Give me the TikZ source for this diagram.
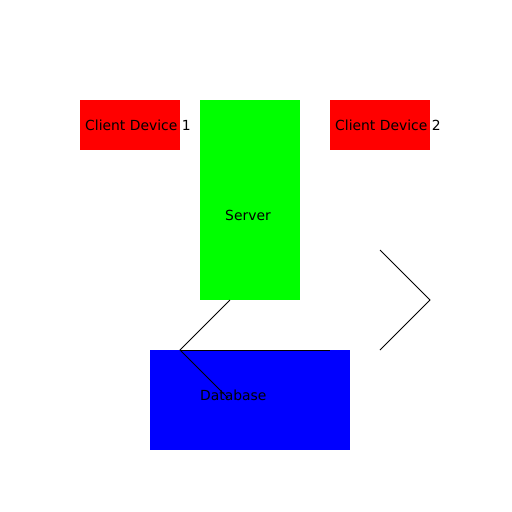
\documentclass[tikz,border=0pt]{standalone}
\usepackage{fontspec}
\setmainfont{DejaVu Sans}
\usetikzlibrary{positioning}

\begin{document}
\begin{tikzpicture}[x=1pt, y=-1pt,
    box/.style={draw=none, inner sep=0pt, outer sep=0pt},
    lbl/.style={inner sep=0pt, anchor=west, font=\fontsize{13.9}{16}\selectfont},
    wire/.style={line width=1pt, black}]
  \useasboundingbox (0,0) rectangle (512,512);

  \node[box, fill=red, minimum width=100pt, minimum height=50pt] (client1) at (130,125) {};
  \node[box, fill=green, minimum width=100pt, minimum height=200pt, right=20pt of client1.north east, anchor=north west] (server) {};
  \node[box, fill=red, minimum width=100pt, minimum height=50pt, right=30pt of server.north east, anchor=north west] (client2) {};
  \node[box, fill=blue, minimum width=200pt, minimum height=100pt] (db) at (250,400) {};

  % Lignes
  \coordinate (s1) at ([xshift=-20pt]server.south);
  \coordinate (j1) at (180,350);
  \coordinate (j2) at (228,398);
  \coordinate (j3) at (330,350);
  \coordinate (c1) at (380,250);
  \coordinate (c2) at (430,300);
  \coordinate (c3) at (380,350);
  \draw[wire] (s1) -- (j1) -- (j2);
  \draw[wire] (j1) -- (j3);
  \draw[wire] (c1) -- (c2) -- (c3);

  \node[lbl] (t1) at ([xshift=5pt]client1.west) {Client Device 1};
  \node[lbl] (t2) at ([xshift=5pt]client2.west) {Client Device 2};
  \node[lbl] (ts) at (225,215) {Server};
  \node[lbl] (td) at (200,395) {Database};
\end{tikzpicture}
\end{document}
